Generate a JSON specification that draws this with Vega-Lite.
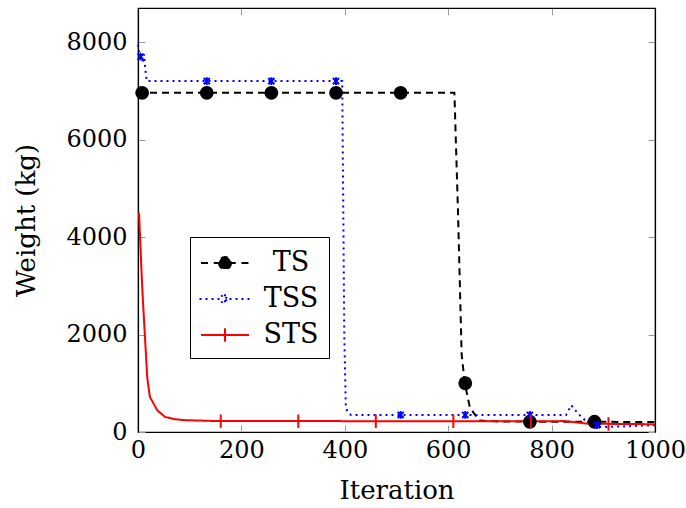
{
  "$schema": "https://vega.github.io/schema/vega-lite/v6.json",
  "width": 517,
  "height": 424,
  "autosize": "none",
  "padding": {"left": 138, "top": 8, "right": 31, "bottom": 76},
  "background": "white",
  "config": {
    "view": {"stroke": "black", "strokeWidth": 1.2},
    "font": "DejaVu Serif",
    "axis": {
      "domainColor": "black",
      "domainWidth": 1.2,
      "tickColor": "#999999",
      "tickSize": -7,
      "tickWidth": 1,
      "labelFont": "DejaVu Serif",
      "labelFontSize": 24,
      "labelColor": "black",
      "labelFlush": false,
      "titleFont": "DejaVu Serif",
      "titleFontSize": 26,
      "titleFontWeight": "normal",
      "titleColor": "black",
      "grid": false,
      "format": "d"
    }
  },
  "datasets": {
    "lines": [
      {"series": "TS", "iteration": 0, "weight": 6960},
      {"series": "TS", "iteration": 612, "weight": 6960},
      {"series": "TS", "iteration": 619, "weight": 4500},
      {"series": "TS", "iteration": 626, "weight": 1600},
      {"series": "TS", "iteration": 632, "weight": 1000},
      {"series": "TS", "iteration": 642, "weight": 500},
      {"series": "TS", "iteration": 660, "weight": 235},
      {"series": "TS", "iteration": 700, "weight": 215},
      {"series": "TS", "iteration": 1000, "weight": 205},
      {"series": "TSS", "iteration": 0, "weight": 7950},
      {"series": "TSS", "iteration": 3, "weight": 7750},
      {"series": "TSS", "iteration": 6, "weight": 7700},
      {"series": "TSS", "iteration": 9, "weight": 7600},
      {"series": "TSS", "iteration": 12, "weight": 7750},
      {"series": "TSS", "iteration": 14, "weight": 7450},
      {"series": "TSS", "iteration": 17, "weight": 7200},
      {"series": "TSS", "iteration": 395, "weight": 7200},
      {"series": "TSS", "iteration": 399, "weight": 2000},
      {"series": "TSS", "iteration": 402, "weight": 500},
      {"series": "TSS", "iteration": 406, "weight": 400},
      {"series": "TSS", "iteration": 412, "weight": 350},
      {"series": "TSS", "iteration": 828, "weight": 350},
      {"series": "TSS", "iteration": 838, "weight": 550},
      {"series": "TSS", "iteration": 848, "weight": 420},
      {"series": "TSS", "iteration": 858, "weight": 300},
      {"series": "TSS", "iteration": 870, "weight": 200},
      {"series": "TSS", "iteration": 885, "weight": 110},
      {"series": "TSS", "iteration": 900, "weight": 100},
      {"series": "TSS", "iteration": 1000, "weight": 140},
      {"series": "STS", "iteration": 2, "weight": 4500},
      {"series": "STS", "iteration": 8, "weight": 3000},
      {"series": "STS", "iteration": 13, "weight": 2030},
      {"series": "STS", "iteration": 18, "weight": 1100},
      {"series": "STS", "iteration": 23, "weight": 720},
      {"series": "STS", "iteration": 37, "weight": 450},
      {"series": "STS", "iteration": 52, "weight": 310},
      {"series": "STS", "iteration": 70, "weight": 265},
      {"series": "STS", "iteration": 87, "weight": 245},
      {"series": "STS", "iteration": 150, "weight": 225},
      {"series": "STS", "iteration": 800, "weight": 220},
      {"series": "STS", "iteration": 825, "weight": 225},
      {"series": "STS", "iteration": 870, "weight": 170},
      {"series": "STS", "iteration": 1000, "weight": 160}
    ],
    "marks": [
      {"series": "TS", "iteration": 8, "weight": 6960},
      {"series": "TS", "iteration": 133, "weight": 6960},
      {"series": "TS", "iteration": 258, "weight": 6960},
      {"series": "TS", "iteration": 383, "weight": 6960},
      {"series": "TS", "iteration": 508, "weight": 6960},
      {"series": "TS", "iteration": 633, "weight": 1000},
      {"series": "TS", "iteration": 758, "weight": 210},
      {"series": "TS", "iteration": 883, "weight": 210},
      {"series": "TSS", "iteration": 5, "weight": 7700},
      {"series": "TSS", "iteration": 133, "weight": 7200},
      {"series": "TSS", "iteration": 258, "weight": 7200},
      {"series": "TSS", "iteration": 383, "weight": 7200},
      {"series": "TSS", "iteration": 508, "weight": 350},
      {"series": "TSS", "iteration": 633, "weight": 350},
      {"series": "TSS", "iteration": 758, "weight": 350},
      {"series": "TSS", "iteration": 888, "weight": 140},
      {"series": "STS", "iteration": 160, "weight": 222},
      {"series": "STS", "iteration": 310, "weight": 222},
      {"series": "STS", "iteration": 460, "weight": 221},
      {"series": "STS", "iteration": 610, "weight": 220},
      {"series": "STS", "iteration": 760, "weight": 220},
      {"series": "STS", "iteration": 910, "weight": 165}
    ]
  },
  "layer": [
    {
      "data": {"name": "lines"},
      "mark": {"type": "line", "strokeWidth": 2},
      "encoding": {
        "x": {
          "field": "iteration", "type": "quantitative",
          "scale": {"domain": [0, 1000], "nice": false, "padding": 0},
          "axis": {"orient": "bottom", "title": "Iteration", "values": [0, 200, 400, 600, 800, 1000], "labelPadding": 13, "titlePadding": 15}
        },
        "y": {
          "field": "weight", "type": "quantitative",
          "scale": {"domain": [0, 8700], "nice": false, "zero": false, "padding": 0},
          "axis": {"orient": "left", "title": "Weight (kg)", "values": [0, 2000, 4000, 6000, 8000], "labelPadding": 18, "titlePadding": 26}
        },
        "color": {
          "field": "series", "type": "nominal",
          "scale": {"domain": ["TS", "TSS", "STS"], "range": ["#000000", "#0000ff", "#ff0000"]},
          "legend": {
            "orient": "none",
            "legendX": 52,
            "legendY": 229,
            "title": null,
            "strokeColor": "black",
            "fillColor": "white",
            "padding": 10,
            "symbolSize": 900,
            "symbolOffset": 9,
            "symbolStrokeWidth": 2,
            "labelFontSize": 27,
            "labelFont": "DejaVu Serif",
            "labelColor": "black",
            "labelAlign": "center",
            "labelOffset": 50,
            "rowPadding": 7,
            "encode": {
              "symbols": {
                "update": {
                  "shape": {"signal": "datum.value === 'TS' ? 'M-1.6,0H-1.1M-0.75,0H-0.25M0.4,0A0.4,0.4 0 1,1 -0.4,0A0.4,0.4 0 1,1 0.4,0ZM0.25,0H0.75M1.1,0H1.6' : datum.value === 'TSS' ? 'M-1.7,0H-0.3M0.3,0H1.7M-0.25,-0.25L0.25,0.25M-0.25,0.25L0.25,-0.25M0,-0.32V0.32' : 'M-1.6,0H1.6M0,-0.45V0.45'"},
                  "fill": {"signal": "datum.value === 'TS' ? 'black' : 'transparent'"},
                  "strokeDash": {"signal": "datum.value === 'TSS' ? [2, 4] : [1, 0]"}
                }
              }
            }
          }
        },
        "strokeDash": {
          "field": "series", "type": "nominal",
          "scale": {"domain": ["TS", "TSS", "STS"], "range": [[7, 5], [2, 4], [1, 0]]},
          "legend": null
        }
      }
    },
    {
      "data": {"name": "marks"},
      "mark": {"type": "point", "strokeWidth": 2, "opacity": 1},
      "encoding": {
        "x": {
          "field": "iteration", "type": "quantitative",
          "scale": {"domain": [0, 1000], "nice": false, "padding": 0},
          "axis": {"orient": "top", "labels": false, "title": null, "values": [0, 200, 400, 600, 800, 1000]}
        },
        "y": {
          "field": "weight", "type": "quantitative",
          "scale": {"domain": [0, 8700], "nice": false, "zero": false, "padding": 0},
          "axis": {"orient": "right", "labels": false, "title": null, "values": [0, 2000, 4000, 6000, 8000]}
        },
        "color": {"field": "series", "type": "nominal", "legend": null},
        "fill": {
          "condition": {"test": "datum.series === 'TS'", "value": "#000000"},
          "value": "transparent"
        },
        "shape": {
          "condition": [
            {"test": "datum.series === 'TS'", "value": "circle"},
            {"test": "datum.series === 'TSS'", "value": "M-0.8,-0.8L0.8,0.8M-0.8,0.8L0.8,-0.8M0,-1V1"}
          ],
          "value": "M0,-1V1"
        },
        "size": {
          "condition": [
            {"test": "datum.series === 'TS'", "value": 140},
            {"test": "datum.series === 'TSS'", "value": 60}
          ],
          "value": 180
        }
      }
    }
  ],
  "resolve": {"axis": {"x": "independent", "y": "independent"}}
}
